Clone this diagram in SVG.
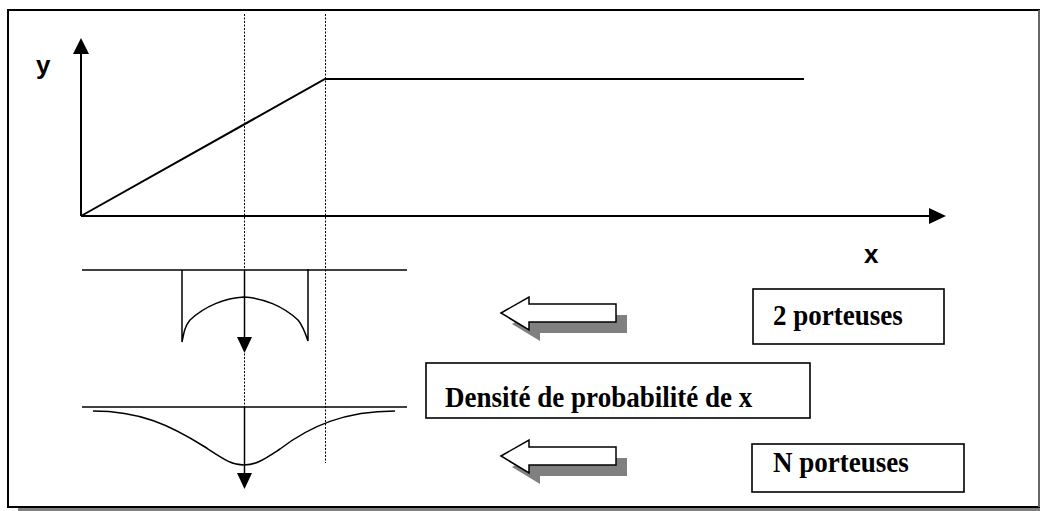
<svg xmlns="http://www.w3.org/2000/svg" width="1040" height="511" viewBox="0 0 1040 511">
<defs>
<style>
.thick{stroke:#000;stroke-width:2;fill:none}
.thin{stroke:#000;stroke-width:1.5;fill:none}
.dot{stroke:#000;stroke-width:1;stroke-dasharray:2 1.5;fill:none}
.box{fill:#fff;stroke:#000;stroke-width:1.6}
.lbl{font-family:"Liberation Serif","Times New Roman",serif;font-weight:bold;font-size:26.5px;fill:#000}
.ax{font-family:"Liberation Sans",Arial,sans-serif;font-weight:bold;font-size:26px;fill:#000}
.shadow{fill:#808080}
.hollow{fill:#fff;stroke:#000;stroke-width:1.5;stroke-linejoin:miter}
</style>
<polygon id="hollowArrow" points="501,313 529,297 529,304 616,304 616,322 529,322 529,330"/>
</defs>
<rect x="0" y="0" width="1040" height="511" fill="#fff"/>
<g id="frame">
<rect x="18" y="507" width="1022" height="4" class="shadow"/>
<rect x="8" y="10" width="1031" height="497" fill="#fff" stroke="#000" stroke-width="2"/>
<line x1="1039" y1="10" x2="1039" y2="507" stroke="#888" stroke-width="1.5"/>
</g>
<g id="connectors">
<line class="dot" x1="244.5" y1="14" x2="244.5" y2="466"/>
<line class="dot" x1="325.5" y1="14" x2="325.5" y2="463"/>
<line class="thick" x1="81" y1="216" x2="81" y2="53"/>
<polygon points="81,38 73,54 89,54" fill="#000"/>
<line class="thick" x1="81" y1="216" x2="930" y2="216"/>
<polygon points="946,216 929,208 929,224" fill="#000"/>
<polyline class="thick" points="81,216 325,79 804,79"/>
<line class="thin" x1="244.5" y1="270" x2="244.5" y2="338"/>
<polygon points="244.5,353 237,337 252,337" fill="#000"/>
<line class="thin" x1="244.5" y1="407" x2="244.5" y2="474"/>
<polygon points="244.5,489 237,473 252,473" fill="#000"/>
</g>
<g id="axis-labels">
<text class="ax" x="36" y="74">y</text>
<text class="ax" x="864" y="263">x</text>
</g>
<g id="density-2">
<line class="thin" x1="82" y1="270" x2="407" y2="270"/>
<path class="thin" d="M182,270 L182,342 C184,332 185,326 190,320 C205,306 225,298 244,297 C263,298 283,306 298,320 C303,326 305,332 308,341 L308,269"/>
</g>
<g id="density-N">
<line class="thin" x1="82" y1="407" x2="407" y2="407"/>
<path class="thin" d="M93,411 C140,411 170,425 205,447 C225,460 232,465 244,465 C256,465 263,460 280,449 C310,426 345,411 395,411"/>
</g>
<g id="arrow-2">
<use href="#hollowArrow" class="shadow" transform="translate(11,11)"/>
<use href="#hollowArrow" class="hollow"/>
</g>
<g id="arrow-N">
<use href="#hollowArrow" class="shadow" transform="translate(11,154)"/>
<use href="#hollowArrow" class="hollow" transform="translate(0,143)"/>
</g>
<g id="box-2">
<rect class="box" x="753" y="289" width="191" height="55"/>
<text class="lbl" transform="translate(773,325) scale(1.02,1.15)">2 porteuses</text>
</g>
<g id="box-densite">
<rect class="box" x="426" y="363" width="384" height="55"/>
<text class="lbl" transform="translate(445,407) scale(1.02,1.15)">Densité de probabilité de x</text>
</g>
<g id="box-N">
<rect class="box" x="752" y="444" width="212" height="48"/>
<text class="lbl" transform="translate(773,472) scale(1.02,1.15)">N porteuses</text>
</g>
</svg>
